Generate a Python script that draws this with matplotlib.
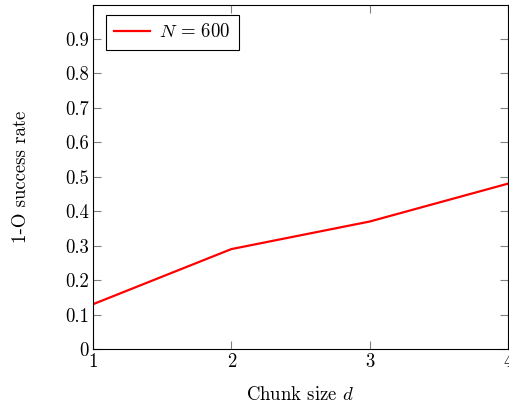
import matplotlib
matplotlib.use("Agg")
import matplotlib.pyplot as plt

chunk_sizes = [1, 2, 3, 4]
success_rate = [0.13, 0.29, 0.37, 0.48]
y_ticks = [0, 0.1, 0.2, 0.3, 0.4, 0.5, 0.6, 0.7, 0.8, 0.9]
y_tick_labels = ["0", "0.1", "0.2", "0.3", "0.4", "0.5", "0.6", "0.7", "0.8", "0.9"]

plt.rcParams['font.family'] = 'serif'
plt.rcParams['font.serif'] = ['cmr10', 'DejaVu Serif']
plt.rcParams['mathtext.fontset'] = 'cm'
plt.rcParams['axes.formatter.use_mathtext'] = True

fs = 13.5
fig = plt.figure(figsize=(5.09, 4.09), dpi=100)
ax = fig.add_axes([93/509, 60/409, 415/509, 344.5/409])

ax.plot(chunk_sizes, success_rate, color='red', lw=1.6, label=r'$N\,=\,600$')
ax.set_xlim(1, 4)
ax.set_ylim(0, 1.0)
ax.set_xticks(chunk_sizes)
ax.set_xticklabels([str(c) for c in chunk_sizes])
ax.set_yticks(y_ticks)
ax.set_yticklabels(y_tick_labels)
ax.tick_params(direction='in', length=6, color='#808080', labelsize=fs, top=True, right=True, width=0.8, pad=3)
for s in ax.spines.values():
    s.set_linewidth(0.8)
ax.set_xlabel(r'Chunk size $d$', fontsize=fs, labelpad=11)
ax.set_ylabel('1-O success rate', fontsize=fs, labelpad=25)
leg = ax.legend(loc='upper left', fontsize=fs, fancybox=False, edgecolor='black',
                framealpha=1, handlelength=1.9, handletextpad=0.5, borderpad=0.45, borderaxespad=0,
                bbox_to_anchor=(0.031, 0.97))
leg.get_frame().set_linewidth(0.8)
fig.savefig('out.png', dpi=100)
